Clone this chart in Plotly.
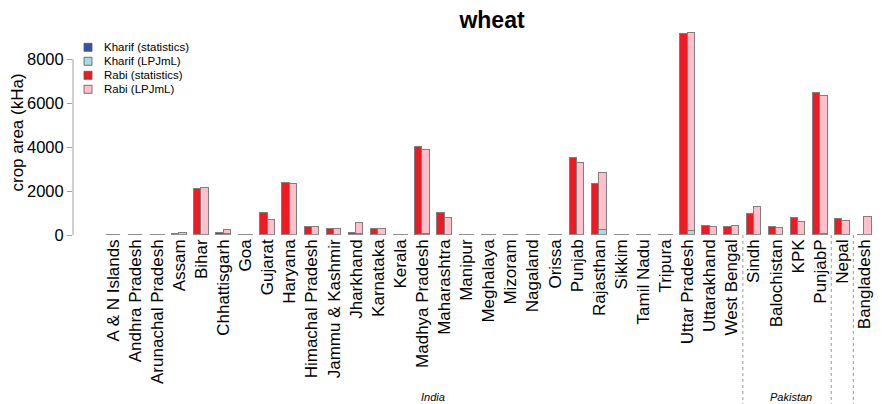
import plotly.graph_objects as go

# regions (India states, Pakistan provinces, Nepal, Bangladesh)
regions = ["A & N Islands", "Andhra Pradesh", "Arunachal Pradesh", "Assam", "Bihar",
           "Chhattisgarh", "Goa", "Gujarat", "Haryana", "Himachal Pradesh",
           "Jammu & Kashmir", "Jharkhand", "Karnataka", "Kerala", "Madhya Pradesh",
           "Maharashtra", "Manipur", "Meghalaya", "Mizoram", "Nagaland", "Orissa",
           "Punjab", "Rajasthan", "Sikkim", "Tamil Nadu", "Tripura", "Uttar Pradesh",
           "Uttarakhand", "West Bengal",
           "Sindh", "Balochistan", "KPK", "PunjabP",
           "Nepal", "Bangladesh"]

# crop area in kHa
kharif_stat = [0] * 35
rabi_stat = [0, 10, 0, 60, 2080, 110, 0, 1000, 2380, 380,
             270, 90, 270, 0, 3985, 1000, 0, 5, 0, 0, 5,
             3485, 2300, 0, 0, 0, 9150, 410, 380,
             970, 380, 760, 6440, 730, 0]
kharif_lpj = [0, 0, 0, 0, 0, 30, 0, 0, 0, 0,
              0, 50, 0, 0, 40, 0, 0, 0, 0, 0, 0,
              0, 250, 0, 0, 0, 180, 0, 0,
              0, 0, 0, 40, 0, 0]
rabi_lpj = [0, 10, 0, 110, 2120, 180, 0, 660, 2300, 370,
            270, 510, 260, 0, 3820, 770, 0, 0, 0, 0, 15,
            3260, 2550, 0, 0, 0, 8990, 350, 410,
            1270, 320, 590, 6260, 650, 800]

legend_names = ["Kharif (statistics)", "Kharif (LPJmL)", "Rabi (statistics)", "Rabi (LPJmL)"]
colors = ["#3953A4", "#ADD8E6", "#ED1C24", "#FFC0CB"]
border = "#7F7F7F"

country_labels = ["India", "Pakistan"]
country_pos = [14.5, 30.7]
separators = [28.5, 32.5, 33.5]

# the page body has an 8px margin and the right 8px of the window stay blank,
# so the figure is 866 wide and window positions are shifted by OFF
OFF = 8
W, H = 882 - 2 * OFF, 404 - OFF
plot_left, plot_top, plot_bottom = 73, 30, 235   # window pixels
L, T, R = plot_left - OFF, plot_top - OFF, 0
B = H - (plot_bottom - OFF)
plot_w = W - L - R
plot_h = H - T - B
ymax = 8000 / 176 * plot_h
px_per_group = 22.1
x0 = -(113 - plot_left) / px_per_group
xrange_ = [x0, x0 + plot_w / px_per_group]


def px_x(p):
    return (p - plot_left) / plot_w


def px_y(p):
    return (plot_bottom - p) / plot_h


idx = list(range(len(regions)))
bw = 1 / 3
x_stat = [i - bw / 2 for i in idx]
x_lpj = [i + bw / 2 for i in idx]

fig = go.Figure()
for name, xs, ys, col in [(legend_names[0], x_stat, kharif_stat, colors[0]),
                          (legend_names[1], x_lpj, kharif_lpj, colors[1]),
                          (legend_names[2], x_stat, rabi_stat, colors[2]),
                          (legend_names[3], x_lpj, rabi_lpj, colors[3])]:
    fig.add_trace(go.Bar(x=xs, y=ys, width=bw, name=name, showlegend=False,
                         marker=dict(color=col, line=dict(color=border, width=1))))

# zero baseline under every bar pair (R draws the empty bar borders)
bx, by = [], []
for i in idx:
    bx += [i - bw, i + bw, None]
    by += [0, 0, None]
fig.add_trace(go.Scatter(x=bx, y=by, mode="lines", showlegend=False, hoverinfo="skip",
                         line=dict(color="#A0A0A0", width=1), cliponaxis=False))

shapes = []
# y axis line from 0 to 8000 only
shapes.append(dict(type="line", xref="paper", yref="y", x0=0, x1=0, y0=0, y1=8000,
                   line=dict(color="#A0A0A0", width=1)))
for s in separators:
    shapes.append(dict(type="line", xref="x", yref="paper", x0=s, x1=s, y0=0, y1=px_y(410),
                       line=dict(color="#999999", width=1, dash="dot")))

annotations = []
# manual legend (R legend rows are tighter than plotly's)
for k, (name, col) in enumerate(zip(legend_names, colors)):
    yc = 47.3 + 14 * k
    shapes.append(dict(type="rect", xref="paper", yref="paper",
                       x0=px_x(84), x1=px_x(92), y0=px_y(yc + 4), y1=px_y(yc - 4),
                       fillcolor=col, line=dict(color="#555555", width=0.8)))
    annotations.append(dict(text=name, xref="paper", yref="paper", x=px_x(102), y=px_y(yc),
                            xanchor="left", yanchor="middle", showarrow=False,
                            font=dict(size=11.5, color="black")))

for lab, pos in zip(country_labels, country_pos):
    annotations.append(dict(text="<i>" + lab + "</i>", xref="x", yref="paper", x=pos,
                            y=px_y(397), xanchor="center", yanchor="middle", showarrow=False,
                            font=dict(size=11, color="black")))

annotations.append(dict(text="crop area (kHa)", xref="paper", yref="paper", x=px_x(16.5), y=px_y(132),
                        textangle=-90, xanchor="center", yanchor="middle", showarrow=False,
                        font=dict(size=17, color="black")))

fig.update_layout(
    width=W, height=H,
    margin=dict(l=L, r=R, t=T, b=B, pad=0),
    paper_bgcolor="white", plot_bgcolor="white",
    font=dict(family="Liberation Sans, Arial, sans-serif", color="black"),
    barmode="stack",
    bargap=0,
    title=dict(text="<b>wheat</b>", xref="container", yref="container",
               x=(492 - OFF) / W, y=1 - (19.5 - OFF) / H, xanchor="center", yanchor="middle",
               font=dict(size=23, color="black")),
    xaxis=dict(range=xrange_, tickmode="array", tickvals=idx, ticktext=regions,
               tickangle=-90, showgrid=False, zeroline=False, showline=False,
               ticks="", ticklabeloverflow="allow", automargin=False,
               tickfont=dict(size=17, color="black")),
    yaxis=dict(range=[0, ymax], tickvals=[0, 2000, 4000, 6000, 8000], showgrid=False,
               zeroline=False, showline=False, ticks="outside", ticklen=5,
               tickcolor="#A0A0A0", tickfont=dict(size=16.5, color="black")),
    shapes=shapes,
    annotations=annotations,
    showlegend=False,
)

fig.write_html("out.html")
